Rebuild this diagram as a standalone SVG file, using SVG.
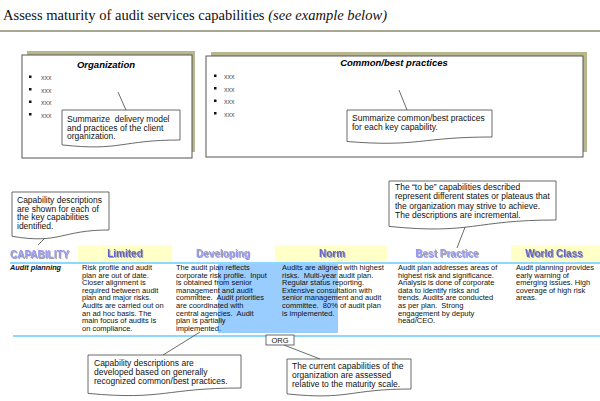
<svg xmlns="http://www.w3.org/2000/svg" width="600" height="401" viewBox="0 0 600 401">
<defs>
<filter id="sh" x="-10%" y="-30%" width="130%" height="170%">
<feDropShadow dx="1" dy="1" stdDeviation="0.6" flood-color="#999" flood-opacity="0.9"/>
</filter>
</defs>
<style>
.t{font-family:"Liberation Sans",Arial,sans-serif;white-space:pre}
.title{font-family:"Liberation Serif","Times New Roman",serif;font-size:15px;fill:#111}
.shadow{fill:#b8b68c}
.box{fill:#fff;stroke:#555;stroke-width:1}
.call{fill:#fff;stroke:#444;stroke-width:0.8}
.ptr{stroke:#444;stroke-width:0.8;fill:none}
.ct{font-size:8.5px;fill:#111}
.bt{font-size:7.5px;fill:#111}
.xx{font-size:7px;fill:#555}
.hd{font-size:10px;font-weight:bold;text-anchor:middle}
.dark{fill:#6262c8}
.light{fill:#9a9af5}
.band{fill:#ffffc8}
.bl{stroke:#66ccff;stroke-width:1.5}
</style>

<text class="title" x="3" y="20" textLength="384" lengthAdjust="spacingAndGlyphs">Assess maturity of audit services capabilities <tspan font-style="italic">(see example below)</tspan></text>
<line x1="0" y1="31" x2="600" y2="31" stroke="#8a8a6c" stroke-width="1.5"/>

<g id="organization">
<rect class="shadow" x="27" y="51" width="168" height="101"/>
<rect class="box" x="22" y="55" width="170" height="103"/>
<text class="t" x="106" y="68" font-size="9.5" font-weight="bold" font-style="italic" text-anchor="middle">Organization</text>
<rect x="29" y="75.5" width="2.5" height="2.5" fill="#111"/>
<rect x="29" y="88" width="2.5" height="2.5" fill="#111"/>
<rect x="29" y="100.5" width="2.5" height="2.5" fill="#111"/>
<rect x="29" y="113" width="2.5" height="2.5" fill="#111"/>
<text class="t xx" x="41" y="80">xxx</text>
<text class="t xx" x="41" y="93">xxx</text>
<text class="t xx" x="41" y="105">xxx</text>
<text class="t xx" x="41" y="118">xxx</text>
</g>

<g id="common-best">
<rect class="shadow" x="211" y="52" width="376" height="100"/>
<rect class="box" x="206" y="56" width="377" height="101"/>
<text class="t" x="394" y="66" font-size="9.5" font-weight="bold" font-style="italic" text-anchor="middle">Common/best practices</text>
<rect x="214" y="74.5" width="2.5" height="2.5" fill="#111"/>
<rect x="214" y="87" width="2.5" height="2.5" fill="#111"/>
<rect x="214" y="99.5" width="2.5" height="2.5" fill="#111"/>
<rect x="214" y="112" width="2.5" height="2.5" fill="#111"/>
<text class="t xx" x="224" y="79">xxx</text>
<text class="t xx" x="224" y="92">xxx</text>
<text class="t xx" x="224" y="104">xxx</text>
<text class="t xx" x="224" y="117">xxx</text>
</g>

<g id="header-row">
<rect class="band" x="78" y="245" width="94" height="16"/>
<rect class="band" x="275" y="245" width="112" height="16"/>
<rect class="band" x="511" y="245" width="89" height="16"/>
<text class="t" x="10" y="258" font-size="10" font-weight="bold" fill="#9a9af5" filter="url(#sh)">CAPABILITY</text>
<text class="t hd dark" x="125" y="257" filter="url(#sh)">Limited</text>
<text class="t hd light" x="223" y="257" filter="url(#sh)">Developing</text>
<text class="t hd dark" x="332" y="257" filter="url(#sh)">Norm</text>
<text class="t hd light" x="447" y="257" filter="url(#sh)">Best Practice</text>
<text class="t hd dark" x="554" y="257" filter="url(#sh)">World Class</text>
</g>

<g id="highlight">
<rect x="218" y="264" width="120" height="69" fill="#99ccff"/>
</g>

<g id="audit-planning">
<text class="t" x="10" y="270" font-size="7.3" font-weight="bold" font-style="italic" fill="#111">Audit planning</text>
<text class="t bt" x="82" y="270"><tspan x="82">Risk profile and audit</tspan><tspan x="82" dy="7.6">plan are out of date.</tspan><tspan x="82" dy="7.6">Closer alignment is</tspan><tspan x="82" dy="7.6">required between audit</tspan><tspan x="82" dy="7.6">plan and major risks.</tspan><tspan x="82" dy="7.6">Audits are carried out on</tspan><tspan x="82" dy="7.6">an ad hoc basis. The</tspan><tspan x="82" dy="7.6">main focus of audits is</tspan><tspan x="82" dy="7.6">on compliance.</tspan></text>
<text class="t bt" x="176" y="270"><tspan x="176">The audit plan reflects</tspan><tspan x="176" dy="7.6">corporate risk profile.  Input</tspan><tspan x="176" dy="7.6">is obtained from senior</tspan><tspan x="176" dy="7.6">management and audit</tspan><tspan x="176" dy="7.6">committee.  Audit priorities</tspan><tspan x="176" dy="7.6">are coordinated with</tspan><tspan x="176" dy="7.6">central agencies.  Audit</tspan><tspan x="176" dy="7.6">plan is partially</tspan><tspan x="176" dy="7.6">implemented.</tspan></text>
<text class="t bt" x="282" y="270"><tspan x="282">Audits are aligned with highest</tspan><tspan x="282" dy="7.6">risks.  Multi-year audit plan.</tspan><tspan x="282" dy="7.6">Regular status reporting.</tspan><tspan x="282" dy="7.6">Extensive consultation with</tspan><tspan x="282" dy="7.6">senior management and audit</tspan><tspan x="282" dy="7.6">committee.  80% of audit plan</tspan><tspan x="282" dy="7.6">is implemented.</tspan></text>
<text class="t bt" x="398" y="270"><tspan x="398">Audit plan addresses areas of</tspan><tspan x="398" dy="7.6">highest risk and significance.</tspan><tspan x="398" dy="7.6">Analysis is done of corporate</tspan><tspan x="398" dy="7.6">data to identify risks and</tspan><tspan x="398" dy="7.6">trends. Audits are conducted</tspan><tspan x="398" dy="7.6">as per plan.  Strong</tspan><tspan x="398" dy="7.6">engagement by deputy</tspan><tspan x="398" dy="7.6">head/CEO.</tspan></text>
<text class="t bt" x="516" y="270"><tspan x="516">Audit planning provides</tspan><tspan x="516" dy="7.6">early warning of</tspan><tspan x="516" dy="7.6">emerging issues. High</tspan><tspan x="516" dy="7.6">coverage of high risk</tspan><tspan x="516" dy="7.6">areas.</tspan></text>
</g>

<g id="connectors">
<line class="bl" x1="10" y1="263" x2="600" y2="263"/>
<line class="bl" x1="13" y1="336" x2="600" y2="336"/>
<line class="ptr" x1="118" y1="92" x2="126" y2="110"/>
<line class="ptr" x1="399" y1="90" x2="407" y2="110"/>
<line class="ptr" x1="45" y1="238" x2="38" y2="245"/>
<line class="ptr" x1="467" y1="222" x2="457" y2="248"/>
<line class="ptr" x1="200" y1="332" x2="163" y2="355"/>
<line class="ptr" x1="284" y1="345" x2="320" y2="359"/>
</g>

<g id="callout-org">
<path class="call" d="M62 110 H180 V140 C121 140 121 151.4 62 144.9 Z"/>
<text class="t ct" x="67" y="122"><tspan x="67">Summarize  delivery model</tspan><tspan x="67" dy="8.7">and practices of the client</tspan><tspan x="67" dy="8.7">organization.</tspan></text>
</g>

<g id="callout-common">
<path class="call" d="M347 110 H492 V137 C419.5 137 419.5 147.3 347 141.5 Z"/>
<text class="t ct" x="352" y="121"><tspan x="352">Summarize common/best practices</tspan><tspan x="352" dy="9">for each key capability.</tspan></text>
</g>

<g id="callout-capdesc">
<path class="call" d="M12 192 H109 V230 C60.5 230 60.5 244.5 12 236.3 Z"/>
<text class="t ct" x="17" y="203"><tspan x="17">Capability descriptions</tspan><tspan x="17" dy="8.7">are shown for each of</tspan><tspan x="17" dy="8.7">the key capabilities</tspan><tspan x="17" dy="8.7">identified.</tspan></text>
</g>

<g id="callout-tobe">
<path class="call" d="M389 181 H556 V220 C472.5 220 472.5 234.8 389 226.4 Z"/>
<text class="t ct" x="395" y="190"><tspan x="395">The “to be” capabilities described</tspan><tspan x="395" dy="9.3">represent different states or plateaus that</tspan><tspan x="395" dy="9.3">the organization may strive to achieve.</tspan><tspan x="395" dy="9.3">The descriptions are incremental.</tspan></text>
</g>

<g id="org-tag">
<rect x="266" y="335" width="28" height="10" fill="#fff" stroke="#444" stroke-width="0.8"/>
<text class="t" x="280" y="343" font-size="7.5" fill="#111" text-anchor="middle">ORG</text>
</g>

<g id="callout-developed">
<path class="call" d="M88 355 H241 V388 C164.5 388 164.5 400.5 88 393.4 Z"/>
<text class="t ct" x="94" y="365.5"><tspan x="94">Capability descriptions are</tspan><tspan x="94" dy="9.2">developed based on generally</tspan><tspan x="94" dy="9.2">recognized common/best practices.</tspan></text>
</g>

<g id="callout-current">
<path class="call" d="M287 359 H411 V389 C349 389 349 400.4 287 393.9 Z"/>
<text class="t ct" x="292" y="369"><tspan x="292">The current capabilities of the</tspan><tspan x="292" dy="9">organization are assessed</tspan><tspan x="292" dy="9">relative to the maturity scale.</tspan></text>
</g>
</svg>
